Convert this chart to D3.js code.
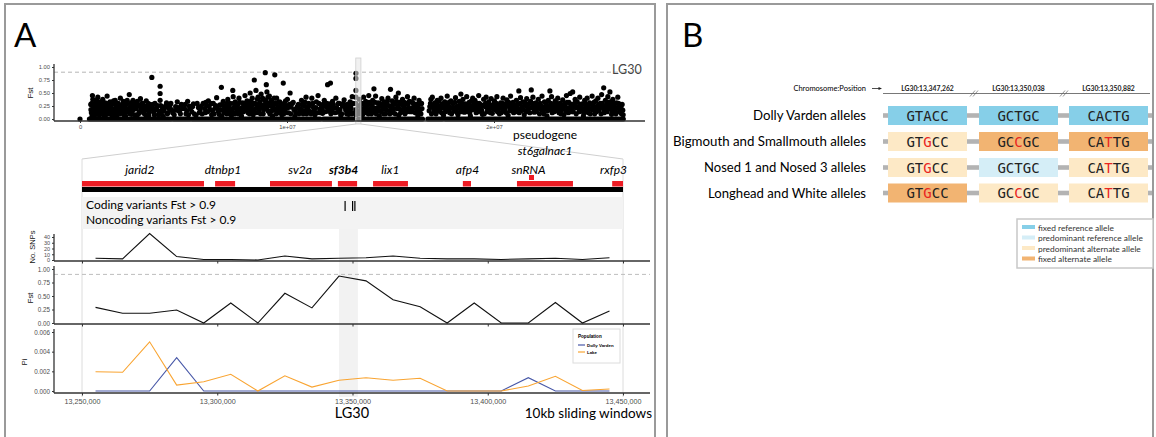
<!DOCTYPE html>
<html><head><meta charset="utf-8">
<script src="https://cdn.jsdelivr.net/npm/d3@7"></script>
<style>body{margin:0;background:#fff}svg{display:block}</style>
</head><body><svg id="c" width="1156" height="437"></svg>
<script>
// ---------------- DATA ----------------
// Genome-wide Fst SNPs on LG30 (position in Mb, Fst)
const manhattanSnps = [
[0.0,0.0],
[0.52,.28],[0.55,.12],[0.58,.05],[0.62,.38],[0.66,.22],[0.7,.16],[0.74,.31],[0.78,.09],[0.82,.25],[0.86,.42],[0.9,.19],[0.94,.07],[0.97,.33],[0.6,.45],[0.8,.36],[0.68,.03],
[1.02,.27],[1.06,.14],[1.1,.38],[1.14,.22],[1.18,.06],[1.22,.31],[1.27,.17],[1.31,.44],[1.36,.25],[1.4,.1],[1.45,.33],[1.5,.2],[1.55,.04],[1.6,.29],[1.65,.13],[1.7,.36],[1.75,.23],[1.8,.08],[1.85,.3],[1.9,.18],[1.95,.4],
[2.0,.26],[2.05,.12],[2.1,.34],[2.15,.2],[2.2,.06],[2.26,.29],[2.32,.15],[2.38,.47],[2.44,.24],[2.5,.09],[2.56,.36],[2.62,.19],[2.68,.31],[2.74,.05],[2.8,.27],[2.86,.14],[2.92,.39],[2.97,.22],
[3.02,.3],[3.08,.11],[3.14,.25],[3.2,.35],[3.26,.17],[3.32,.07],[3.38,.28],[3.47,.80],[3.5,.2],[3.56,.13],[3.62,.3],[3.7,.22],[3.78,.08],[3.87,.63],[3.87,.49],[3.87,.36],[3.9,.26],[3.95,.15],
[4.02,.05],[4.1,.22],[4.18,.31],[4.25,.12],[4.35,.27],[4.42,.18],[4.55,.08],[4.62,.24],[4.7,.33],[4.8,.15],[4.9,.28],
[5.05,.2],[5.12,.1],[5.2,.34],[5.28,.25],[5.4,.14],[5.48,.29],[5.6,.07],[5.72,.22],[5.8,.18],[5.95,.3],
[6.05,.12],[6.12,.26],[6.2,.35],[6.28,.18],[6.36,.08],[6.44,.3],[6.52,.21],[6.6,.41],[6.68,.15],[6.76,.27],[6.83,.61],[6.85,.05],[6.92,.34],[6.97,.2],
[7.02,.25],[7.08,.1],[7.14,.38],[7.2,.18],[7.26,.3],[7.32,.07],[7.38,.55],[7.4,.43],[7.45,.22],[7.5,.33],[7.56,.14],[7.62,.27],[7.68,.4],[7.74,.19],[7.8,.06],[7.86,.31],[7.92,.24],[7.97,.45],
[8.02,.2],[8.07,.35],[8.12,.12],[8.17,.28],[8.22,.5],[8.27,.18],[8.32,.4],[8.37,.08],[8.42,.75],[8.45,.3],[8.5,.55],[8.55,.22],[8.6,.42],[8.65,.14],[8.7,.33],[8.75,.48],[8.8,.26],[8.85,.1],[8.9,.37],[8.95,.89],[8.97,.2],
[9.0,.66],[9.03,.52],[9.06,.3],[9.1,.15],[9.15,.44],[9.2,.25],[9.25,.36],[9.3,.06],[9.35,.29],[9.41,.85],[9.45,.18],[9.5,.4],[9.55,.24],[9.6,.12],[9.65,.33],[9.7,.2],[9.75,.08],[9.82,.69],[9.86,.3],[9.9,.16],[9.95,.26],
[10.02,.38],[10.08,.12],[10.15,.5],[10.2,.23],[10.3,.32],[10.38,.05],[10.45,.2],[10.55,.28],[10.62,.15],[10.7,.36],[10.78,.1],[10.85,.25],[10.92,.42],[10.98,.18],
[11.05,.3],[11.12,.14],[11.2,.4],[11.28,.22],[11.35,.08],[11.42,.33],[11.5,.45],[11.58,.19],[11.65,.27],[11.72,.11],[11.8,.36],[11.88,.24],[11.96,.66],[11.98,.15],
[12.05,.29],[12.1,.69],[12.12,.1],[12.2,.34],[12.28,.21],[12.36,.4],[12.44,.13],[12.52,.3],[12.6,.07],[12.68,.25],[12.76,.37],[12.84,.17],[12.92,.28],[12.98,.09],[13.05,.33],[13.1,.2],[13.15,.43],[13.2,.12],
[13.33,.88],[13.33,.78],[13.33,.55],[13.33,.42],[13.33,.3],[13.33,.18],[13.33,.08],
[13.45,.25],[13.5,.38],[13.55,.15],[13.6,.3],[13.65,.08],[13.7,.42],[13.75,.22],[13.8,.34],[13.85,.12],[13.9,.27],[13.95,.45],[13.98,.18],
[14.02,.3],[14.08,.1],[14.14,.36],[14.2,.58],[14.22,.21],[14.28,.44],[14.34,.15],[14.4,.31],[14.46,.06],[14.52,.26],[14.58,.39],[14.64,.19],[14.7,.33],[14.76,.1],[14.82,.28],[14.88,.4],[14.94,.16],[15.0,.57],
[15.02,.24],[15.08,.35],[15.14,.12],[15.2,.29],[15.26,.42],[15.32,.2],[15.38,.5],[15.4,.07],[15.46,.32],[15.52,.17],[15.58,.38],[15.64,.25],[15.7,.1],[15.76,.3],[15.82,.43],[15.88,.2],[15.94,.14],
[16.02,.33],[16.08,.22],[16.14,.4],[16.2,.12],[16.26,.28],[16.32,.06],[16.38,.36],[16.44,.18],[16.5,.3],[16.9,.24],[16.95,.38],[16.98,.1],
[17.02,.42],[17.08,.2],[17.14,.31],[17.2,.1],[17.26,.36],[17.32,.25],[17.38,.15],[17.44,.4],[17.5,.28],[17.56,.07],[17.62,.33],[17.68,.19],[17.74,.44],[17.8,.26],[17.86,.12],[17.92,.35],[17.97,.22],
[18.02,.3],[18.08,.15],[18.14,.41],[18.2,.24],[18.26,.08],[18.32,.34],[18.4,.48],[18.44,.2],[18.5,.38],[18.56,.13],[18.62,.29],[18.68,.43],[18.74,.18],[18.8,.32],[18.86,.06],[18.92,.25],[18.97,.4],
[19.02,.21],[19.08,.36],[19.14,.12],[19.2,.3],[19.26,.45],[19.32,.17],[19.38,.27],[19.44,.09],[19.5,.38],[19.56,.24],[19.62,.42],[19.68,.14],[19.74,.33],[19.8,.2],[19.86,.39],[19.92,.11],[19.97,.28],
[20.02,.35],[20.08,.18],[20.14,.43],[20.2,.26],[20.26,.1],[20.32,.31],[20.38,.2],[20.44,.4],[20.5,.15],[20.56,.29],[20.62,.37],[20.68,.07],[20.74,.23],[20.8,.44],[20.86,.16],[20.92,.32],[20.97,.25],
[21.02,.19],[21.08,.36],[21.14,.28],[21.2,.54],[21.22,.12],[21.28,.41],[21.34,.22],[21.4,.33],[21.46,.08],[21.52,.27],[21.58,.39],[21.64,.17],[21.7,.3],[21.8,.56],[21.82,.22],[21.88,.42],[21.94,.13],
[22.02,.31],[22.08,.2],[22.14,.38],[22.2,.1],[22.26,.26],[22.32,.44],[22.38,.16],[22.44,.33],[22.5,.24],[22.56,.06],[22.62,.36],[22.7,.54],[22.72,.19],[22.78,.43],[22.84,.28],[22.9,.14],[22.96,.35],
[23.02,.22],[23.08,.4],[23.14,.12],[23.2,.3],[23.26,.18],[23.32,.37],[23.38,.08],[23.44,.26],[23.5,.45],[23.56,.2],[23.62,.32],[23.68,.49],[23.8,.52],[23.74,.14],[23.86,.27],[23.92,.38],[23.97,.1],
[24.02,.33],[24.08,.21],[24.14,.42],[24.2,.15],[24.26,.29],[24.32,.06],[24.38,.36],[24.44,.24],[24.5,.4],[24.56,.12],[24.62,.31],[24.68,.19],[24.74,.44],[24.8,.27],[24.86,.1],[24.92,.35],[24.97,.22],
[25.02,.4],[25.08,.17],[25.14,.3],[25.2,.47],[25.3,.6],[25.26,.24],[25.32,.12],[25.38,.36],[25.44,.28],[25.5,.43],[25.6,.52],[25.56,.2],[25.62,.33],[25.68,.09],[25.74,.38],[25.8,.25],[25.86,.14],[25.92,.31],[25.98,.42],[26.04,.2],[26.1,.28],[26.16,.1],[26.22,.17]
];
// further SNPs in the dense core of the cloud (Mb, Fst)
const manhattanCore = [
[0.53,.18],[0.57,.3],[0.64,.1],[0.72,.26],[0.76,.2],[0.84,.14],[0.88,.3],[0.92,.24],[0.99,.12],
[1.03,.2],[1.08,.32],[1.12,.1],[1.16,.15],[1.2,.26],[1.25,.08],[1.29,.22],[1.34,.12],[1.38,.3],[1.43,.18],[1.47,.27],[1.52,.12],[1.57,.2],[1.62,.35],[1.67,.07],[1.72,.16],[1.78,.3],[1.83,.14],[1.88,.25],[1.93,.1],[1.98,.2],
[2.03,.17],[2.08,.3],[2.12,.08],[2.18,.24],[2.23,.14],[2.28,.36],[2.35,.2],[2.41,.1],[2.47,.31],[2.53,.16],[2.59,.25],[2.65,.08],[2.71,.2],[2.77,.34],[2.83,.1],[2.89,.24],[2.94,.15],[2.99,.3],
[3.04,.2],[3.11,.16],[3.17,.08],[3.23,.23],[3.29,.3],[3.35,.14],[3.42,.2],[3.53,.28],[3.59,.08],[3.66,.18],[3.74,.26],[3.82,.15],[3.92,.09],[3.98,.22],
[4.06,.15],[4.14,.26],[4.22,.1],[4.3,.2],[4.39,.3],[4.48,.12],[4.66,.17],[4.75,.22],[4.85,.1],[4.95,.2],
[5.08,.28],[5.16,.16],[5.24,.08],[5.33,.2],[5.44,.24],[5.52,.1],[5.66,.3],[5.76,.12],[5.86,.25],[5.9,.1],
[6.02,.2],[6.08,.32],[6.16,.14],[6.24,.24],[6.32,.3],[6.4,.16],[6.48,.1],[6.56,.26],[6.64,.2],[6.72,.09],[6.8,.18],[6.88,.28],[6.95,.12],
[7.05,.16],[7.11,.3],[7.17,.24],[7.23,.1],[7.29,.2],[7.35,.15],[7.43,.3],[7.48,.1],[7.53,.24],[7.59,.2],[7.65,.1],[7.71,.32],[7.77,.12],[7.83,.22],[7.89,.14],[7.95,.3],
[8.04,.27],[8.09,.15],[8.14,.22],[8.19,.1],[8.24,.34],[8.29,.26],[8.34,.15],[8.39,.3],[8.47,.2],[8.52,.12],[8.57,.38],[8.62,.28],[8.67,.2],[8.72,.1],[8.77,.25],[8.82,.4],[8.87,.18],[8.92,.28],[8.99,.35],
[9.02,.22],[9.08,.42],[9.12,.26],[9.17,.1],[9.22,.32],[9.27,.16],[9.32,.22],[9.38,.4],[9.43,.3],[9.48,.1],[9.52,.2],[9.58,.32],[9.63,.22],[9.68,.14],[9.73,.28],[9.78,.18],[9.84,.1],[9.88,.22],[9.93,.35],[9.98,.12],
[10.05,.22],[10.12,.28],[10.18,.1],[10.25,.3],[10.34,.18],[10.42,.12],[10.5,.24],[10.58,.1],[10.66,.2],[10.74,.28],[10.82,.16],[10.88,.32],[10.95,.1],
[11.02,.2],[11.08,.26],[11.16,.1],[11.24,.3],[11.32,.16],[11.39,.22],[11.46,.12],[11.54,.3],[11.62,.12],[11.69,.2],[11.76,.28],[11.84,.14],[11.92,.3],
[12.02,.18],[12.08,.24],[12.15,.16],[12.24,.28],[12.32,.12],[12.4,.22],[12.48,.3],[12.56,.18],[12.64,.1],[12.72,.3],[12.8,.22],[12.88,.1],[12.95,.2],[13.02,.16],[13.08,.26],[13.13,.1],[13.18,.3],
[13.42,.15],[13.47,.1],[13.53,.26],[13.58,.2],[13.63,.16],[13.68,.3],[13.72,.12],[13.78,.2],[13.83,.26],[13.88,.18],[13.93,.1],[13.97,.32],
[14.05,.2],[14.11,.26],[14.17,.14],[14.25,.32],[14.31,.1],[14.37,.22],[14.43,.18],[14.49,.3],[14.55,.14],[14.61,.28],[14.67,.1],[14.73,.22],[14.79,.18],[14.85,.34],[14.91,.26],[14.97,.1],
[15.05,.16],[15.11,.28],[15.17,.2],[15.23,.1],[15.29,.34],[15.35,.26],[15.43,.2],[15.49,.12],[15.55,.28],[15.61,.18],[15.67,.32],[15.73,.2],[15.79,.14],[15.85,.28],[15.91,.34],[15.97,.2],
[16.05,.14],[16.11,.3],[16.17,.24],[16.23,.2],[16.29,.14],[16.35,.22],[16.41,.3],[16.47,.1],[16.52,.2],[16.87,.16],[16.93,.3],
[17.05,.26],[17.11,.14],[17.17,.22],[17.23,.3],[17.29,.16],[17.35,.34],[17.41,.2],[17.47,.12],[17.53,.22],[17.59,.3],[17.65,.14],[17.71,.26],[17.77,.18],[17.83,.32],[17.89,.2],[17.95,.1],
[18.05,.22],[18.11,.32],[18.17,.18],[18.23,.12],[18.29,.26],[18.35,.2],[18.41,.14],[18.47,.3],[18.53,.24],[18.59,.2],[18.65,.14],[18.71,.28],[18.77,.22],[18.83,.12],[18.89,.34],[18.95,.18],
[19.05,.28],[19.11,.2],[19.17,.26],[19.23,.14],[19.29,.3],[19.35,.22],[19.41,.16],[19.47,.26],[19.53,.1],[19.59,.3],[19.65,.22],[19.71,.18],[19.77,.28],[19.83,.12],[19.89,.24],[19.95,.2],
[20.05,.22],[20.11,.3],[20.17,.14],[20.23,.2],[20.29,.24],[20.35,.12],[20.41,.3],[20.47,.22],[20.53,.18],[20.59,.12],[20.65,.26],[20.71,.32],[20.77,.16],[20.83,.26],[20.89,.22],[20.95,.12],
[21.05,.26],[21.11,.14],[21.17,.2],[21.25,.3],[21.31,.16],[21.37,.24],[21.43,.18],[21.49,.32],[21.55,.14],[21.61,.24],[21.67,.2],[21.73,.12],[21.77,.34],[21.85,.3],[21.91,.2],[21.97,.26],
[22.05,.14],[22.11,.26],[22.17,.22],[22.23,.3],[22.29,.18],[22.35,.24],[22.41,.1],[22.47,.2],[22.53,.3],[22.59,.16],[22.65,.24],[22.75,.3],[22.81,.12],[22.87,.22],[22.93,.28],[22.99,.16],
[23.05,.3],[23.11,.18],[23.17,.24],[23.23,.1],[23.29,.26],[23.35,.2],[23.41,.3],[23.47,.14],[23.53,.32],[23.59,.12],[23.65,.22],[23.71,.28],[23.77,.2],[23.83,.14],[23.89,.3],[23.95,.22],
[24.05,.24],[24.11,.14],[24.17,.28],[24.23,.22],[24.29,.18],[24.35,.12],[24.41,.3],[24.47,.16],[24.53,.26],[24.59,.2],[24.65,.1],[24.71,.28],[24.77,.18],[24.83,.32],[24.89,.22],[24.95,.14],
[25.05,.28],[25.11,.22],[25.17,.1],[25.23,.3],[25.29,.2],[25.35,.16],[25.41,.24],[25.47,.14],[25.53,.32],[25.59,.26],[25.65,.2],[25.71,.14],[25.77,.3],[25.83,.2],[25.89,.1],[25.95,.22],[26.01,.3],[26.07,.14],[26.13,.22],[26.19,.28],[26.24,.08]
];
// dense runs of Fst = 0 SNPs (Mb start, Mb end)
const zeroRuns = [[0.45,4.4],[4.52,5.3],[5.42,11.6],[11.75,13.2],[13.45,16.55],[16.8,17.5],[17.65,26.25]];
const mhYTicks = [0, 0.25, 0.5, 0.75, 1];
const mhYTickLabels = ["0.00","0.25","0.50","0.75","1.00"];
const mhXTicks = [0, 1e7, 2e7];
const mhXTickLabels = ["0","1e+07","2e+07"];
const fstThreshold = 0.9;

// Gene track
const geneNames  = ["jarid2","dtnbp1","sv2a","sf3b4","lix1","afp4","snRNA","rxfp3"];
const geneStart  = [13250000,13299200,13319500,13344600,13357600,13390800,13410800,13446000];
const geneEnd    = [13295100,13306600,13342400,13351700,13370500,13393800,13431500,13450000];
const geneLabelAt= [13271400,13302100,13330600,13346700,13364000,13392500,13415100,13446500];
const pseudoStart = 13415250, pseudoEnd = 13417100, pseudoLabelAt = 13421200;
const variantPositions = [13347262, 13350038, 13350882];

// 10kb sliding windows (centres)
const windowMid = [13255000,13265000,13275000,13285000,13295000,13305000,13315000,13325000,13335000,13345000,
                   13355000,13365000,13375000,13385000,13395000,13405000,13415000,13425000,13435000,13445000];
const noSnps = [3,2,46,6,1,1,0,7,2,3,4,7,3,2,2,1,2,3,1,4];
const windowFst = [0.29,0.18,0.18,0.24,0.0,0.37,0.0,0.55,0.28,0.87,0.78,0.43,0.30,0.0,0.37,0.0,0.0,0.38,0.0,0.22];
const piDollyVarden = [0,0,0,0.0034,0,0,0,0,0,0,0,0,0,0,0,0,0.00135,0,0,0];
const piLake = [0.00196,0.0019,0.005,0.0006,0.00094,0.0017,0.0,0.00155,0.0004,0.0011,0.00135,0.0011,0.0013,0.0,0.0,0.0,0.0005,0.0015,0.00005,0.0002];
const lowerXTicks = [13250000,13300000,13350000,13400000,13450000];
const lowerXTickLabels = ["13,250,000","13,300,000","13,350,000","13,400,000","13,450,000"];
const snpTicks = [0,10,20,30,40];
const fstTicks = [0,0.25,0.5,0.75,1];
const fstTickLabels = ["0.00","0.25","0.50","0.75","1.00"];
const piTicks = [0,0.002,0.004,0.006];
const piTickLabels = ["0.000","0.002","0.004","0.006"];
const populations = ["Dolly Varden","Lake"];

// Panel B
const snpHeaders = ["LG30:13,347,262","LG30:13,350,038","LG30:13,350,882"];
const groupNames = ["Dolly Varden alleles","Bigmouth and Smallmouth alleles","Nosed 1 and Nosed 3 alleles","Longhead and White alleles"];
const sequences = [["GTACC","GCTGC","CACTG"],["GTGCC","GCCGC","CATTG"],["GTGCC","GCTGC","CATTG"],["GTGCC","GCCGC","CATTG"]];
// 0 fixed reference, 1 predominant reference, 2 predominant alternate, 3 fixed alternate
const alleleState = [[0,0,0],[2,3,3],[2,1,2],[3,2,2]];
const altIndex = 2; // variant base within each 5-mer
const legendLabels = ["fixed reference allele","predominant reference allele","predominant alternate allele","fixed alternate allele"];

// ---------------- DRAW ----------------
const svg = d3.select("#c");
svg.append("rect").attr("width",1156).attr("height",437).attr("fill","#fff");
const SANS = "Lato, 'Open Sans', sans-serif";
const PLOT = "'Liberation Sans', Arial, sans-serif";
const MONO = "'DejaVu Sans Mono', monospace";
const axisCol = "#333", tickCol = "#4d4d4d";

// panel borders
svg.append("rect").attr("x",5).attr("y",4).attr("width",650).attr("height",450).attr("fill","none").attr("stroke","#9a9a9a").attr("stroke-width",2);
svg.append("rect").attr("x",667).attr("y",4).attr("width",486).attr("height",450).attr("fill","none").attr("stroke","#9a9a9a").attr("stroke-width",2);
svg.append("text").attr("x",14).attr("y",47).attr("font-family",SANS).attr("font-size",33).text("A");
svg.append("text").attr("x",682).attr("y",47).attr("font-family",SANS).attr("font-size",33).text("B");

// ---- Manhattan ----
const xM = d3.scaleLinear().domain([0,2e7]).range([80,494]);
const yM = d3.scaleLinear().domain([0,1]).range([119,67]);
const gM = svg.append("g");
gM.append("line").attr("x1",54).attr("x2",640).attr("y1",yM(fstThreshold)).attr("y2",yM(fstThreshold))
  .attr("stroke","#b5b5b5").attr("stroke-dasharray","4,3").attr("stroke-width",1);
gM.selectAll("line.zr").data(zeroRuns).join("line").attr("class","zr")
  .attr("x1",d=>xM(d[0]*1e6)).attr("x2",d=>xM(d[1]*1e6)).attr("y1",yM(0)).attr("y2",yM(0))
  .attr("stroke","#000").attr("stroke-width",5).attr("stroke-linecap","round");
gM.selectAll("circle").data(manhattanSnps.concat(manhattanCore)).join("circle")
  .attr("cx",d=>xM(d[0]*1e6)).attr("cy",d=>yM(d[1])).attr("r",2.6).attr("fill","#000");
// highlighted window band
const bandL = xM(13.25e6)+1.5, bandR = xM(13.45e6)+2.5;
gM.append("rect").attr("x",bandL).attr("y",58).attr("width",bandR-bandL).attr("height",66)
  .attr("fill","#e6e6e6").attr("fill-opacity",0.55).attr("stroke","#d0d0d0").attr("stroke-width",0.8);
gM.append("text").attr("x",612).attr("y",74).attr("font-family",SANS).attr("font-size",12.5).attr("fill","#444").text("LG30");
// axes
gM.append("line").attr("x1",54).attr("x2",54).attr("y1",64).attr("y2",121).attr("stroke",axisCol).attr("stroke-width",1.3);
gM.append("line").attr("x1",54).attr("x2",645).attr("y1",121).attr("y2",121).attr("stroke",axisCol).attr("stroke-width",1.3);
const ayM = d3.axisLeft(yM).tickValues(mhYTicks).tickFormat((d,i)=>mhYTickLabels[i]).tickSize(2).tickPadding(2);
const gay = gM.append("g").attr("transform","translate(54,0)").call(ayM);
const axM = d3.axisBottom(xM).tickValues(mhXTicks).tickFormat((d,i)=>mhXTickLabels[i]).tickSize(2).tickPadding(2);
const gax = gM.append("g").attr("transform","translate(0,121)").call(axM);
[gay,gax].forEach(g=>{g.select(".domain").remove();g.selectAll("text").attr("font-family",PLOT).attr("font-size",5.8).attr("fill",tickCol);g.selectAll("line").attr("stroke",axisCol);});
gM.append("text").attr("transform","translate(33,93) rotate(-90)").attr("text-anchor","middle").attr("font-family",PLOT).attr("font-size",8).attr("fill","#111").text("Fst");

// ---- zoom lines ----
const xL = d3.scaleLinear().domain([13250000,13450000]).range([82,623]);
svg.append("line").attr("x1",bandL).attr("y1",124).attr("x2",xL(13250000)).attr("y2",159).attr("stroke","#cfcfcf");
svg.append("line").attr("x1",bandR).attr("y1",124).attr("x2",xL(13450000)).attr("y2",159).attr("stroke","#cfcfcf");

// highlight column & grid
svg.append("rect").attr("x",xL(13345000)).attr("y",229).attr("width",xL(13352000)-xL(13345000)).attr("height",168).attr("fill","#f2f2f2");
[13250000,13450000].forEach(v=>svg.append("line").attr("x1",xL(v)).attr("x2",xL(v)).attr("y1",159).attr("y2",397).attr("stroke","#dcdcdc").attr("stroke-width",1));

// ---- gene track ----
const gG = svg.append("g");
gG.selectAll("rect.gene").data(geneNames).join("rect").attr("class","gene")
  .attr("x",(d,i)=>xL(geneStart[i])).attr("width",(d,i)=>xL(geneEnd[i])-xL(geneStart[i]))
  .attr("y",181).attr("height",5.5).attr("fill","#ee1c24");
gG.append("rect").attr("x",xL(pseudoStart)).attr("width",xL(pseudoEnd)-xL(pseudoStart)).attr("y",175).attr("height",5).attr("fill","#ee1c24");
gG.append("rect").attr("x",xL(13250000)).attr("width",xL(13450000)-xL(13250000)).attr("y",187).attr("height",5).attr("fill","#000");
gG.selectAll("text.gl").data(geneNames).join("text").attr("class","gl")
  .attr("x",(d,i)=>xL(geneLabelAt[i])).attr("y",174).attr("text-anchor","middle")
  .attr("font-family",SANS).attr("font-size",12).attr("font-style","italic")
  .attr("font-weight",d=>d==="sf3b4"?"bold":"normal").text(d=>d);
gG.append("text").attr("x",xL(pseudoLabelAt)).attr("y",139).attr("text-anchor","middle").attr("font-family",SANS).attr("font-size",12).text("pseudogene");
gG.append("text").attr("x",xL(pseudoLabelAt)).attr("y",155).attr("text-anchor","middle").attr("font-family",SANS).attr("font-size",12).attr("font-style","italic").text("st6galnac1");

// variants band
svg.append("rect").attr("x",82).attr("y",197).attr("width",541).attr("height",32).attr("fill","#f3f3f3");
svg.append("text").attr("x",86).attr("y",209).attr("font-family",SANS).attr("font-size",12).text("Coding variants Fst > 0.9");
svg.append("text").attr("x",86).attr("y",224).attr("font-family",SANS).attr("font-size",12).text("Noncoding variants Fst > 0.9");
svg.selectAll("line.var").data(variantPositions).join("line").attr("class","var")
  .attr("x1",d=>xL(d)).attr("x2",d=>xL(d)).attr("y1",201).attr("y2",211).attr("stroke","#000").attr("stroke-width",1.2);

// ---- lower panels ----
function yAxis(scale, ticks, labels, x){
  const a = d3.axisLeft(scale).tickValues(ticks).tickFormat((d,i)=>labels[i]).tickSize(2).tickPadding(2);
  const g = svg.append("g").attr("transform",`translate(${x},0)`).call(a);
  g.select(".domain").remove();
  g.selectAll("text").attr("font-family",PLOT).attr("font-size",6.3).attr("fill",tickCol);
  g.selectAll("line").attr("stroke",axisCol);
  return g;
}
function xAxisLine(y, labels){
  svg.append("line").attr("x1",54).attr("x2",650).attr("y1",y).attr("y2",y).attr("stroke",axisCol).attr("stroke-width",1.3);
  const a = d3.axisBottom(xL).tickValues(lowerXTicks).tickFormat((d,i)=>labels?labels[i]:"").tickSize(2.5).tickPadding(3);
  const g = svg.append("g").attr("transform",`translate(0,${y})`).call(a);
  g.select(".domain").remove();
  g.selectAll("text").attr("font-family",PLOT).attr("font-size",7.2).attr("fill",tickCol);
  g.selectAll("line").attr("stroke",axisCol);
}
function yTitle(txt, x, y, size){
  svg.append("text").attr("transform",`translate(${x},${y}) rotate(-90)`).attr("text-anchor","middle")
    .attr("font-family",PLOT).attr("font-size",size).attr("fill","#111").text(txt);
}
const line = (xs, ys, yS) => d3.line().x((d,i)=>xL(xs[i])).y((d,i)=>yS(ys[i]))(ys);

// SNPs
const ySnp = d3.scaleLinear().domain([0,40]).range([260,237]);
svg.append("line").attr("x1",54).attr("x2",54).attr("y1",234).attr("y2",261).attr("stroke",axisCol).attr("stroke-width",1.3);
yAxis(ySnp, snpTicks, snpTicks.map(String), 54).selectAll("text").attr("font-size",5.5);
xAxisLine(261, null);
yTitle("No. SNPs", 35, 247, 7.5);
svg.append("path").attr("d",line(windowMid,noSnps,ySnp)).attr("fill","none").attr("stroke","#111").attr("stroke-width",1.1);

// Fst
const yFst = d3.scaleLinear().domain([0,1]).range([323,269]);
svg.append("line").attr("x1",54).attr("x2",650).attr("y1",yFst(fstThreshold)).attr("y2",yFst(fstThreshold)).attr("stroke","#bdbdbd").attr("stroke-dasharray","4,3");
svg.append("line").attr("x1",54).attr("x2",54).attr("y1",266).attr("y2",324).attr("stroke",axisCol).attr("stroke-width",1.3);
yAxis(yFst, fstTicks, fstTickLabels, 54);
xAxisLine(324, null);
yTitle("Fst", 33, 298, 7.5);
svg.append("path").attr("d",line(windowMid,windowFst,yFst)).attr("fill","none").attr("stroke","#111").attr("stroke-width",1.1);

// Pi
const yPi = d3.scaleLinear().domain([0,0.006]).range([391,332]);
svg.append("line").attr("x1",54).attr("x2",54).attr("y1",329).attr("y2",393).attr("stroke",axisCol).attr("stroke-width",1.3);
yAxis(yPi, piTicks, piTickLabels, 54);
xAxisLine(393, lowerXTickLabels);
yTitle("Pi", 27, 362, 7.5);
const popCol = {"Dolly Varden":"#4858a8","Lake":"#f9a431"};
svg.append("path").attr("d",line(windowMid,piDollyVarden,yPi)).attr("fill","none").attr("stroke",popCol["Dolly Varden"]).attr("stroke-width",1.1);
svg.append("path").attr("d",line(windowMid,piLake,yPi)).attr("fill","none").attr("stroke",popCol["Lake"]).attr("stroke-width",1.1);
// legend
const lg = svg.append("g").attr("transform","translate(573,329)");
lg.append("rect").attr("width",47).attr("height",34).attr("fill","#fff").attr("stroke","#dcdcdc");
lg.append("text").attr("x",5).attr("y",9).attr("font-family",PLOT).attr("font-size",4.6).attr("font-weight","bold").text("Population");
populations.forEach((p,i)=>{
  lg.append("line").attr("x1",5).attr("x2",12).attr("y1",16+i*7).attr("y2",16+i*7).attr("stroke",popCol[p]).attr("stroke-width",1.2);
  lg.append("text").attr("x",14).attr("y",17.6+i*7).attr("font-family",PLOT).attr("font-size",4.4).attr("font-weight","bold").text(p);
});
svg.append("text").attr("x",352).attr("y",418).attr("text-anchor","middle").attr("font-family",SANS).attr("font-size",14.5).text("LG30");
svg.append("text").attr("x",652).attr("y",418).attr("text-anchor","end").attr("font-family",SANS).attr("font-size",13.5).text("10kb sliding windows");

// ---------------- Panel B ----------------
const boxX = [888,979,1069], boxW = 79, rowY = [115.5,141.5,167.5,193], boxH = 19;
const stateCol = ["#86cfe8","#d5eef7","#fde9c6","#f2b472"];
svg.append("text").attr("x",866).attr("y",91).attr("text-anchor","end").attr("font-family",SANS).attr("font-size",7.5).text("Chromosome:Position");
svg.append("line").attr("x1",872).attr("x2",880).attr("y1",88.5).attr("y2",88.5).attr("stroke","#222").attr("stroke-width",0.8);
svg.append("path").attr("d","M882,88.5 L878.5,87 L878.5,90 Z").attr("fill","#222");
svg.append("line").attr("x1",883).attr("x2",1150).attr("y1",93.5).attr("y2",93.5).attr("stroke","#555").attr("stroke-width",0.8);
[973,1063].forEach(x=>{
  [0,3].forEach(o=>svg.append("line").attr("x1",x+o-3).attr("y1",96.5).attr("x2",x+o+2).attr("y2",90.5).attr("stroke","#666").attr("stroke-width",0.7));
});
snpHeaders.forEach((h,i)=>svg.append("text").attr("x",boxX[i]+boxW/2).attr("y",90.5).attr("text-anchor","middle")
  .attr("font-family",SANS).attr("font-size",6.8).attr("font-weight","bold").attr("fill","#222").text(h));
const labelW = [113,193,162,158];
groupNames.forEach((g,r)=>{
  svg.append("rect").attr("x",883).attr("y",rowY[r]-2.3).attr("width",269).attr("height",4.6).attr("fill","#b3b3b3");
  svg.append("text").attr("x",866).attr("y",rowY[r]+4.8).attr("text-anchor","end").attr("font-family",SANS)
    .attr("font-size",14).attr("textLength",labelW[r]).attr("lengthAdjust","spacingAndGlyphs").text(g);
  sequences[r].forEach((s,c)=>{
    svg.append("rect").attr("x",boxX[c]).attr("y",rowY[r]-boxH/2).attr("width",boxW).attr("height",boxH).attr("fill",stateCol[alleleState[r][c]]);
    const t = svg.append("text").attr("x",boxX[c]+boxW/2).attr("y",rowY[r]+5).attr("text-anchor","middle").attr("font-family",MONO).attr("font-size",14).attr("fill","#222");
    s.split("").forEach((ch,k)=>t.append("tspan").attr("fill",(k===altIndex && alleleState[r][c]>=2)?"#e8251f":"#222").text(ch));
  });
});
// legend B
const lb = svg.append("g").attr("transform","translate(1017,219)");
lb.append("rect").attr("width",136).attr("height",49).attr("fill","#fff").attr("stroke","#c8c8c8").attr("stroke-width",1.5);
legendLabels.forEach((l,i)=>{
  lb.append("rect").attr("x",5).attr("y",6+i*10.5).attr("width",13).attr("height",4).attr("fill",stateCol[i]);
  lb.append("text").attr("x",21).attr("y",11.5+i*10.5).attr("font-family",SANS).attr("font-size",8.4).attr("fill","#333").text(l);
});
</script></body></html>
